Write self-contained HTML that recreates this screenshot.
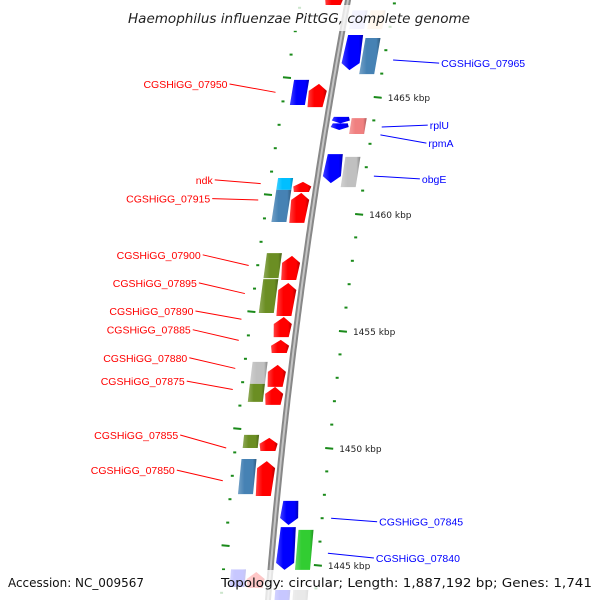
<!DOCTYPE html>
<html><head><meta charset="utf-8"><style>
html,body{margin:0;background:#fff;width:600px;height:600px;overflow:hidden}
svg{display:block;font-family:"DejaVu Sans","Liberation Sans",sans-serif}
</style></head><body>
<svg id="map" width="600" height="600" viewBox="0 0 600 600" xmlns="http://www.w3.org/2000/svg" overflow="hidden">
<defs>
<linearGradient id="shade" x1="0" x2="1" y1="0" y2="0">
<stop offset="0" stop-color="#fff" stop-opacity="0.25"/>
<stop offset="0.35" stop-color="#fff" stop-opacity="0"/>
<stop offset="0.8" stop-color="#000" stop-opacity="0"/>
<stop offset="1" stop-color="#000" stop-opacity="0.3"/>
</linearGradient>
</defs>
<g id="ticks"></g>
<path id="backbone" fill="none" stroke="#888" stroke-width="6"/>
<path id="backbone2" fill="none" stroke="#c4c4c4" stroke-width="2"/>
<g id="genes"></g>
<g id="labels"></g>
<rect x="122" y="5" width="356" height="26" fill="#fff" opacity="0.78"/>
<text x="299" y="23" text-anchor="middle" font-size="13.5" font-style="italic" fill="#222" textLength="342" lengthAdjust="spacingAndGlyphs">Haemophilus influenzae PittGG, complete genome</text>
<rect x="0" y="570" width="600" height="30" fill="#fff" opacity="0.78"/>
<text x="8" y="587" font-size="12.5" fill="#111" textLength="136" lengthAdjust="spacingAndGlyphs">Accession: NC_009567</text>
<text x="221" y="587" font-size="12.5" fill="#111" textLength="371" lengthAdjust="spacingAndGlyphs">Topology: circular; Length: 1,887,192 bp; Genes: 1,741</text>
</svg>
<script>
// data arrays
const geneStart = [1469.4,1468.7,1468.7,1467.65,1467.52,1465.73,1465.56,1464.15,1463.87,1464.10,1462.56,1462.44,1461.54,1461.03,1461.37,1460.90,1458.33,1457.22,1458.21,1457.05,1455.60,1454.62,1453.68,1452.74,1453.55,1452.61,1450.56,1450.43,1449.53,1449.44,1447.74,1446.62,1446.50,1444.79,1444.70,1443.93,1443.93];
const geneEnd   = [1468.93,1467.9,1467.9,1466.15,1465.98,1464.66,1464.57,1463.87,1463.59,1463.42,1461.32,1461.15,1461.03,1459.66,1460.94,1459.62,1457.26,1455.77,1457.18,1455.64,1454.74,1454.06,1452.74,1451.97,1452.61,1451.84,1450.00,1449.87,1448.03,1447.95,1446.71,1444.79,1444.79,1444.06,1444.02,1443.2,1443.2];
const geneTrack = [-1,1,2,1,2,-2,-1,1,1,2,1,2,-2,-2,-1,-1,-2,-2,-1,-1,-1,-1,-2,-2,-1,-1,-2,-1,-2,-1,1,1,2,-2,-1,1,2];
const geneColor = ["#ff0000","#c8c8ff","#ffd8b0","#0000ff","#4682b4","#0000ff","#ff0000","#0000ff","#0000ff","#f08080","#0000ff","#c0c0c0","#00bfff","#4682b4","#ff0000","#ff0000","#6b8e23","#6b8e23","#ff0000","#ff0000","#ff0000","#ff0000","#c0c0c0","#6b8e23","#ff0000","#ff0000","#6b8e23","#ff0000","#4682b4","#ff0000","#0000ff","#0000ff","#32cd32","#0000ff","#ff0000","#0000ff","#999999"];
const geneArrow = [1,0,0,-1,0,0,1,-1,-1,0,-1,0,0,0,1,1,0,0,1,1,1,1,0,0,1,1,0,1,0,1,-1,-1,0,0,1,0,0];
const tickKbp = [1441,1442,1443,1444,1445,1446,1447,1448,1449,1450,1451,1452,1453,1454,1455,1456,1457,1458,1459,1460,1461,1462,1463,1464,1465,1466,1467,1468,1469,1470];
const majorLabels = ["1445 kbp","1450 kbp","1455 kbp","1460 kbp","1465 kbp"];
const majorKbp = [1445,1450,1455,1460,1465];
const labelText = ["CGSHiGG_07950","ndk","CGSHiGG_07915","CGSHiGG_07900","CGSHiGG_07895","CGSHiGG_07890","CGSHiGG_07885","CGSHiGG_07880","CGSHiGG_07875","CGSHiGG_07855","CGSHiGG_07850","CGSHiGG_07965","rplU","rpmA","obgE","CGSHiGG_07845","CGSHiGG_07840"];
const labelSide = [-1,-1,-1,-1,-1,-1,-1,-1,-1,-1,-1,1,1,1,1,1,1];
const labelKbp = [1465.3,1461.2,1460.4,1458.0,1456.8,1455.6,1454.8,1453.6,1452.6,1450.3,1448.8,1466.45,1463.8,1463.03,1461.5,1446.85,1445.3];
const labelTargetKbp = [1465.2,1461.3,1460.6,1457.8,1456.6,1455.5,1454.6,1453.4,1452.5,1450.0,1448.6,1466.58,1463.72,1463.38,1461.62,1447.0,1445.5];

// axis functions
const NS="http://www.w3.org/2000/svg";
function yOf(k){return 97+(1465-k)*23.4;}
function bx(y){return 348-0.1867*y+0.0000889*y*y;}
const trackOff={"-2":-32,"-1":-14,"1":14,"2":32};
function mk(tag,attrs,parent){const e=document.createElementNS(NS,tag);for(const a in attrs)e.setAttribute(a,attrs[a]);parent.appendChild(e);return e;}

let d="";for(let y=-5;y<=605;y+=5){d+=(y===-5?"M":"L")+bx(y).toFixed(1)+","+y+" ";}
document.getElementById('backbone').setAttribute('d',d);
document.getElementById('backbone2').setAttribute('d',d);

const tg=document.getElementById('ticks');
tickKbp.forEach(k=>{
  const major=majorKbp.includes(k);
  const yr=yOf(k), yl=yOf(k)-19;
  const len=major?8:3;
  const r=mk('line',{x1:bx(yr)+47-len/2,y1:yr,x2:bx(yr)+47+len/2,y2:yr+(major?0.8:0),stroke:"#1a8a1a","stroke-width":2},tg);
  
  
  const l=mk('line',{x1:bx(yl)-47-len/2,y1:yl-(major?0.8:0),x2:bx(yl)-47+len/2,y2:yl,stroke:"#1a8a1a","stroke-width":2},tg);
  
  
  if(major){
    const t=mk('text',{x:bx(yr)+57,y:yr+4,"font-size":9,fill:"#222"},tg);
    t.textContent=majorLabels[majorKbp.indexOf(k)];
    
    
  }
});

const gg=document.getElementById('genes');
geneStart.forEach((s,i)=>{
  const yt=yOf(s), yb=yOf(geneEnd[i]);
  const off=trackOff[geneTrack[i]], w=15;
  const L=y=>bx(y)+off-w/2, R=y=>bx(y)+off+w/2, C=y=>bx(y)+off;
  const h=yb-yt, a=Math.min(7,h*0.45);
  let pts;
  if(geneArrow[i]===1){pts=[[C(yt),yt],[R(yt+a)+1.5,yt+a],[R(yb),yb],[L(yb),yb],[L(yt+a)-1.5,yt+a]];}
  else if(geneArrow[i]===-1){pts=[[L(yt),yt],[R(yt),yt],[R(yb-a)+1.5,yb-a],[C(yb),yb],[L(yb-a)-1.5,yb-a]];}
  else{pts=[[L(yt),yt],[R(yt),yt],[R(yb),yb],[L(yb),yb]];}
  const ps=pts.map(p=>p[0].toFixed(1)+","+p[1].toFixed(1)).join(" ");
  const g=mk('polygon',{points:ps,fill:geneColor[i]},gg);
  
  
  const sh=mk('polygon',{points:ps,fill:"url(#shade)"},gg);
  
  
});

const lg=document.getElementById('labels');
labelText.forEach((t,i)=>{
  const side=labelSide[i];
  const yl=yOf(labelKbp[i]), yt=yOf(labelTargetKbp[i]);
  const col=side<0?"#ff0000":"#0000ff";
  const gx=bx(yt)+side*56;
  const tx=gx+side*46;
  const ln=mk('line',{x1:gx,y1:yt,x2:tx,y2:yl+(side<0?-6:0),stroke:col,"stroke-width":1},lg);
  
  
  const te=mk('text',{x:tx+side*2,y:yl+(side<0?-2:4),"font-size":10.5,"font-family":"Liberation Sans, sans-serif",fill:col,"text-anchor":side<0?"end":"start"},lg);
  te.textContent=t;
  
  
});
</script>
</body></html>
